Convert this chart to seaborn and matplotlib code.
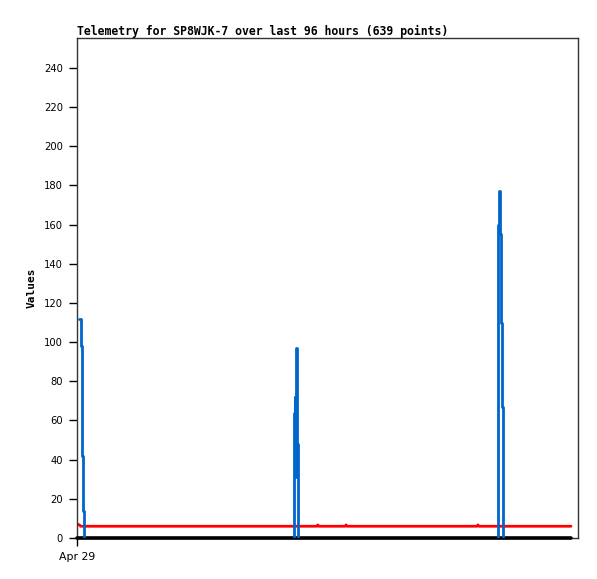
import numpy as np
import pandas as pd
import matplotlib
matplotlib.use("Agg")
import matplotlib.pyplot as plt
import seaborn as sns

# ---- data (hours since Apr 29 00:00) ----
spike1_hours = [0.40, 0.75, 0.90, 1.05, 1.20, 1.35]
spike1_values = [112, 98, 70, 42, 14, 0]
spike2_hours = [42.10, 42.17, 42.30, 42.40, 42.55, 42.75, 42.95]
spike2_values = [0, 64, 72, 31, 97, 48, 0]
spike3_hours = [81.80, 81.87, 82.01, 82.20, 82.34, 82.50, 82.69, 82.88]
spike3_values = [0, 160, 177, 155, 110, 67, 23, 0]

red_hours = [0.2, 0.5, 0.7, 46.6, 46.8, 47.0, 52.1, 52.3, 52.5, 77.7, 77.9, 78.1, 96.0]
red_values = [7, 6.6, 6, 6, 6.7, 6, 6, 6.7, 6, 6, 6.7, 6, 6]

black_hours = [0.0, 96.0]
black_values = [0, 0]

y_ticks = [0, 20, 40, 60, 80, 100, 120, 140, 160, 180, 200, 220, 240]
x_tick_hours = [0]
x_tick_labels = ["Apr 29"]
title = "Telemetry for SP8WJK-7 over last 96 hours (639 points)"
y_label = "Values"

sns.set_style("white")
plt.rcParams["font.family"] = ["DejaVu Sans"]

fig = plt.figure(figsize=(5.97, 5.79), dpi=100)
ax = fig.add_axes([77/597, 41/579, 501/597, 500/579])

red_df = pd.DataFrame({"h": red_hours, "v": red_values})
sns.lineplot(data=red_df, x="h", y="v", ax=ax, color="#ff0000", linewidth=2.0,
             sort=False, estimator=None)
blk_df = pd.DataFrame({"h": black_hours, "v": black_values})
sns.lineplot(data=blk_df, x="h", y="v", ax=ax, color="#000000", linewidth=2.6,
             sort=False, estimator=None, clip_on=False, zorder=3)
for hrs, vals in [(spike1_hours, spike1_values), (spike2_hours, spike2_values),
                  (spike3_hours, spike3_values)]:
    df = pd.DataFrame({"h": hrs, "v": vals})
    sns.lineplot(data=df, x="h", y="v", ax=ax, color="#0066cc", linewidth=2.0,
                 sort=False, estimator=None, drawstyle="steps-post", zorder=4)

ax.set_xlim(0, 97.36)
ax.set_ylim(0, 255.3)
ax.set_yticks(y_ticks)
ax.set_yticklabels([str(t) for t in y_ticks], fontsize=7.2, color="#000000")
ax.set_xticks(x_tick_hours)
ax.set_xticklabels(x_tick_labels, fontsize=7.8, color="#000000")
ax.tick_params(axis="both", which="major", direction="out", length=6, width=1,
               color="#000000", left=True, bottom=True, pad=4)
ax.set_xlabel("")
ax.set_ylabel(y_label, family="DejaVu Sans Mono", fontweight="bold", fontsize=8,
              labelpad=5, color="#000000")
ax.set_title(title, family="DejaVu Sans Mono", fontweight="bold", fontsize=8.3,
             loc="left", pad=2, color="#000000")
for s in ["left", "top", "right", "bottom"]:
    ax.spines[s].set_visible(True)
    ax.spines[s].set_color("#333333")
    ax.spines[s].set_linewidth(1.0)
ax.grid(False)

fig.savefig("out.png", dpi=100)
